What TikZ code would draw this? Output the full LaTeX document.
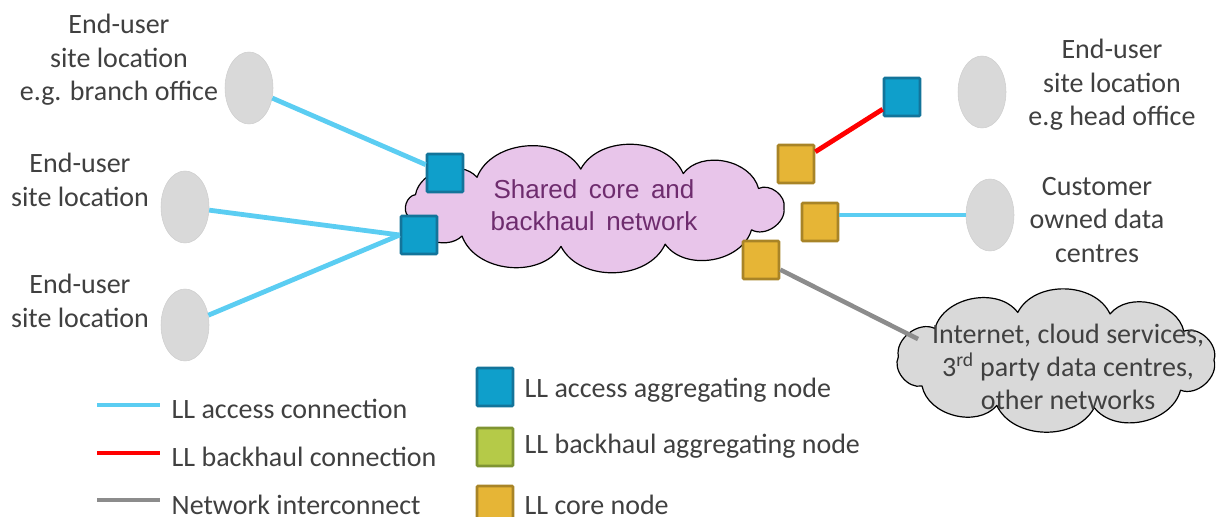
\documentclass[tikz,border=0pt]{standalone}
\usepackage{fontspec}
\setmainfont{Carlito}
\newfontfamily\cloudfont{Liberation Sans}
\usetikzlibrary{shapes.geometric}
\definecolor{txt}{HTML}{404040}
\definecolor{sitegray}{HTML}{D9D9D9}
\definecolor{accfill}{HTML}{0F9FCB}
\definecolor{accdraw}{HTML}{13749A}
\definecolor{corefill}{HTML}{E6B536}
\definecolor{coredraw}{HTML}{A88427}
\definecolor{bhfill}{HTML}{B5CA48}
\definecolor{bhdraw}{HTML}{7F9432}
\definecolor{acccol}{HTML}{5BCDF2}
\definecolor{iccol}{HTML}{8C8C8C}
\definecolor{pinkfill}{HTML}{E8C5EA}
\definecolor{cloudtxt}{HTML}{6E2C6E}
\tikzset{
  site/.style={ellipse, fill=sitegray, draw=sitegray!95!black, line width=0.4pt, minimum width=36pt, minimum height=54pt, inner sep=0pt},
  sq/.style={rectangle, minimum width=27pt, minimum height=28.5pt, inner sep=0pt, line width=2pt, rounded corners=0.8pt},
  accsq/.style={sq, fill=accfill, draw=accdraw},
  coresq/.style={sq, fill=corefill, draw=coredraw},
  bhsq/.style={sq, fill=bhfill, draw=bhdraw},
  lbl/.style={align=center, text=txt},
  leg/.style={anchor=west, text=txt},
  cloudline/.style={draw=black, line width=0.9pt, line join=round},
  puff/.style={bend left=64},
  accline/.style={line width=3.6pt, draw=acccol},
  bhline/.style={line width=3.6pt, draw=red},
  icline/.style={line width=3.4pt, draw=iccol},
}
\begin{document}
\begin{tikzpicture}[x=0.75pt,y=-0.75pt, font=\fontsize{21}{25}\selectfont]
\useasboundingbox (0,0) rectangle (1217,517);

% clouds
\coordinate (c1) at (594,208);
\path[cloudline, fill=pinkfill] ([shift={(c1)}]0:190 and 39)
  \foreach \a in {34,68,100,134,168,200,232,266,298,330,360}
  { to[puff] ([shift={(c1)}]\a:190 and 39) } -- cycle;
\node[align=center, text=cloudtxt, font=\cloudfont\fontsize{19.5}{24}\selectfont] (c1t) at (594,205)
  {Shared\, core\, and\\backhaul\, network};

\coordinate (c2) at (1056,360);
\path[cloudline, fill=sitegray] ([shift={(c2)}]0:158 and 49)
  \foreach \a in {38,76,112,148,184,220,256,290,324,360}
  { to[puff] ([shift={(c2)}]\a:158 and 49) } -- cycle;
\node[align=center, text=txt] (c2t) at (1068,367)
  {Internet, cloud services,\\3\textsuperscript{rd} party data centres,\\other networks};
\coordinate (ic2) at (918,339);

% sites
\node[site] (e1) at (249,88) {};
\node[site] (e2) at (185,207) {};
\node[site] (e3) at (185,325) {};
\node[site] (e4) at (982,92) {};
\node[site] (e5) at (990,215) {};

% labels
\node[lbl] (t1) at (119,60) {End-user\\site location\\e.g. branch office};
\node[lbl] (t2) at (80,180) {End-user\\site location};
\node[lbl] (t3) at (80,301) {End-user\\site location};
\node[lbl] (t4) at (1112,85) {End-user\\site location\\e.g head office};
\node[lbl] (t5) at (1097,220) {Customer\\owned data\\centres};

% nodes
\node[accsq] (b1) at (445,173) {};
\node[accsq] (b2) at (419,235) {};
\node[accsq] (b3) at (902,97) {};
\node[coresq] (g1) at (796,164) {};
\node[coresq] (g2) at (820,222) {};
\node[coresq] (g3) at (761,260) {};

% connections
\draw[accline] (e1) -- (b1);
\draw[accline] (e2) -- (b2.west);
\draw[accline] (e3) -- (b2.west);
\draw[bhline] (g1) -- (b3);
\draw[accline] (e5.west -| g2.east) -- (e5.west);
\draw[icline] (g3) -- (ic2);

% legend lines
\coordinate (la1) at (97,405); \coordinate (lb1) at (160,405);
\coordinate (la2) at (97,453); \coordinate (lb2) at (160,453);
\coordinate (la3) at (97,500); \coordinate (lb3) at (160,500);
\draw[accline] (la1) -- (lb1);
\draw[bhline] (la2) -- (lb2);
\draw[icline] (la3) -- (lb3);
\node[leg] (lt1) at (167,409) {LL access connection};
\node[leg] (lt2) at (167,457) {LL backhaul connection};
\node[leg] (lt3) at (167,505) {Network interconnect};

% legend squares
\node[accsq] (ls1) at (495,387) {};
\node[bhsq] (ls2) at (495,447) {};
\node[coresq] (ls3) at (495,505) {};
\node[leg] (lst1) at (520,390) {LL access aggregating node};
\node[leg] (lst2) at (520,446) {LL backhaul aggregating node};
\node[leg] (lst3) at (520,505) {LL core node};
\end{tikzpicture}
\end{document}
